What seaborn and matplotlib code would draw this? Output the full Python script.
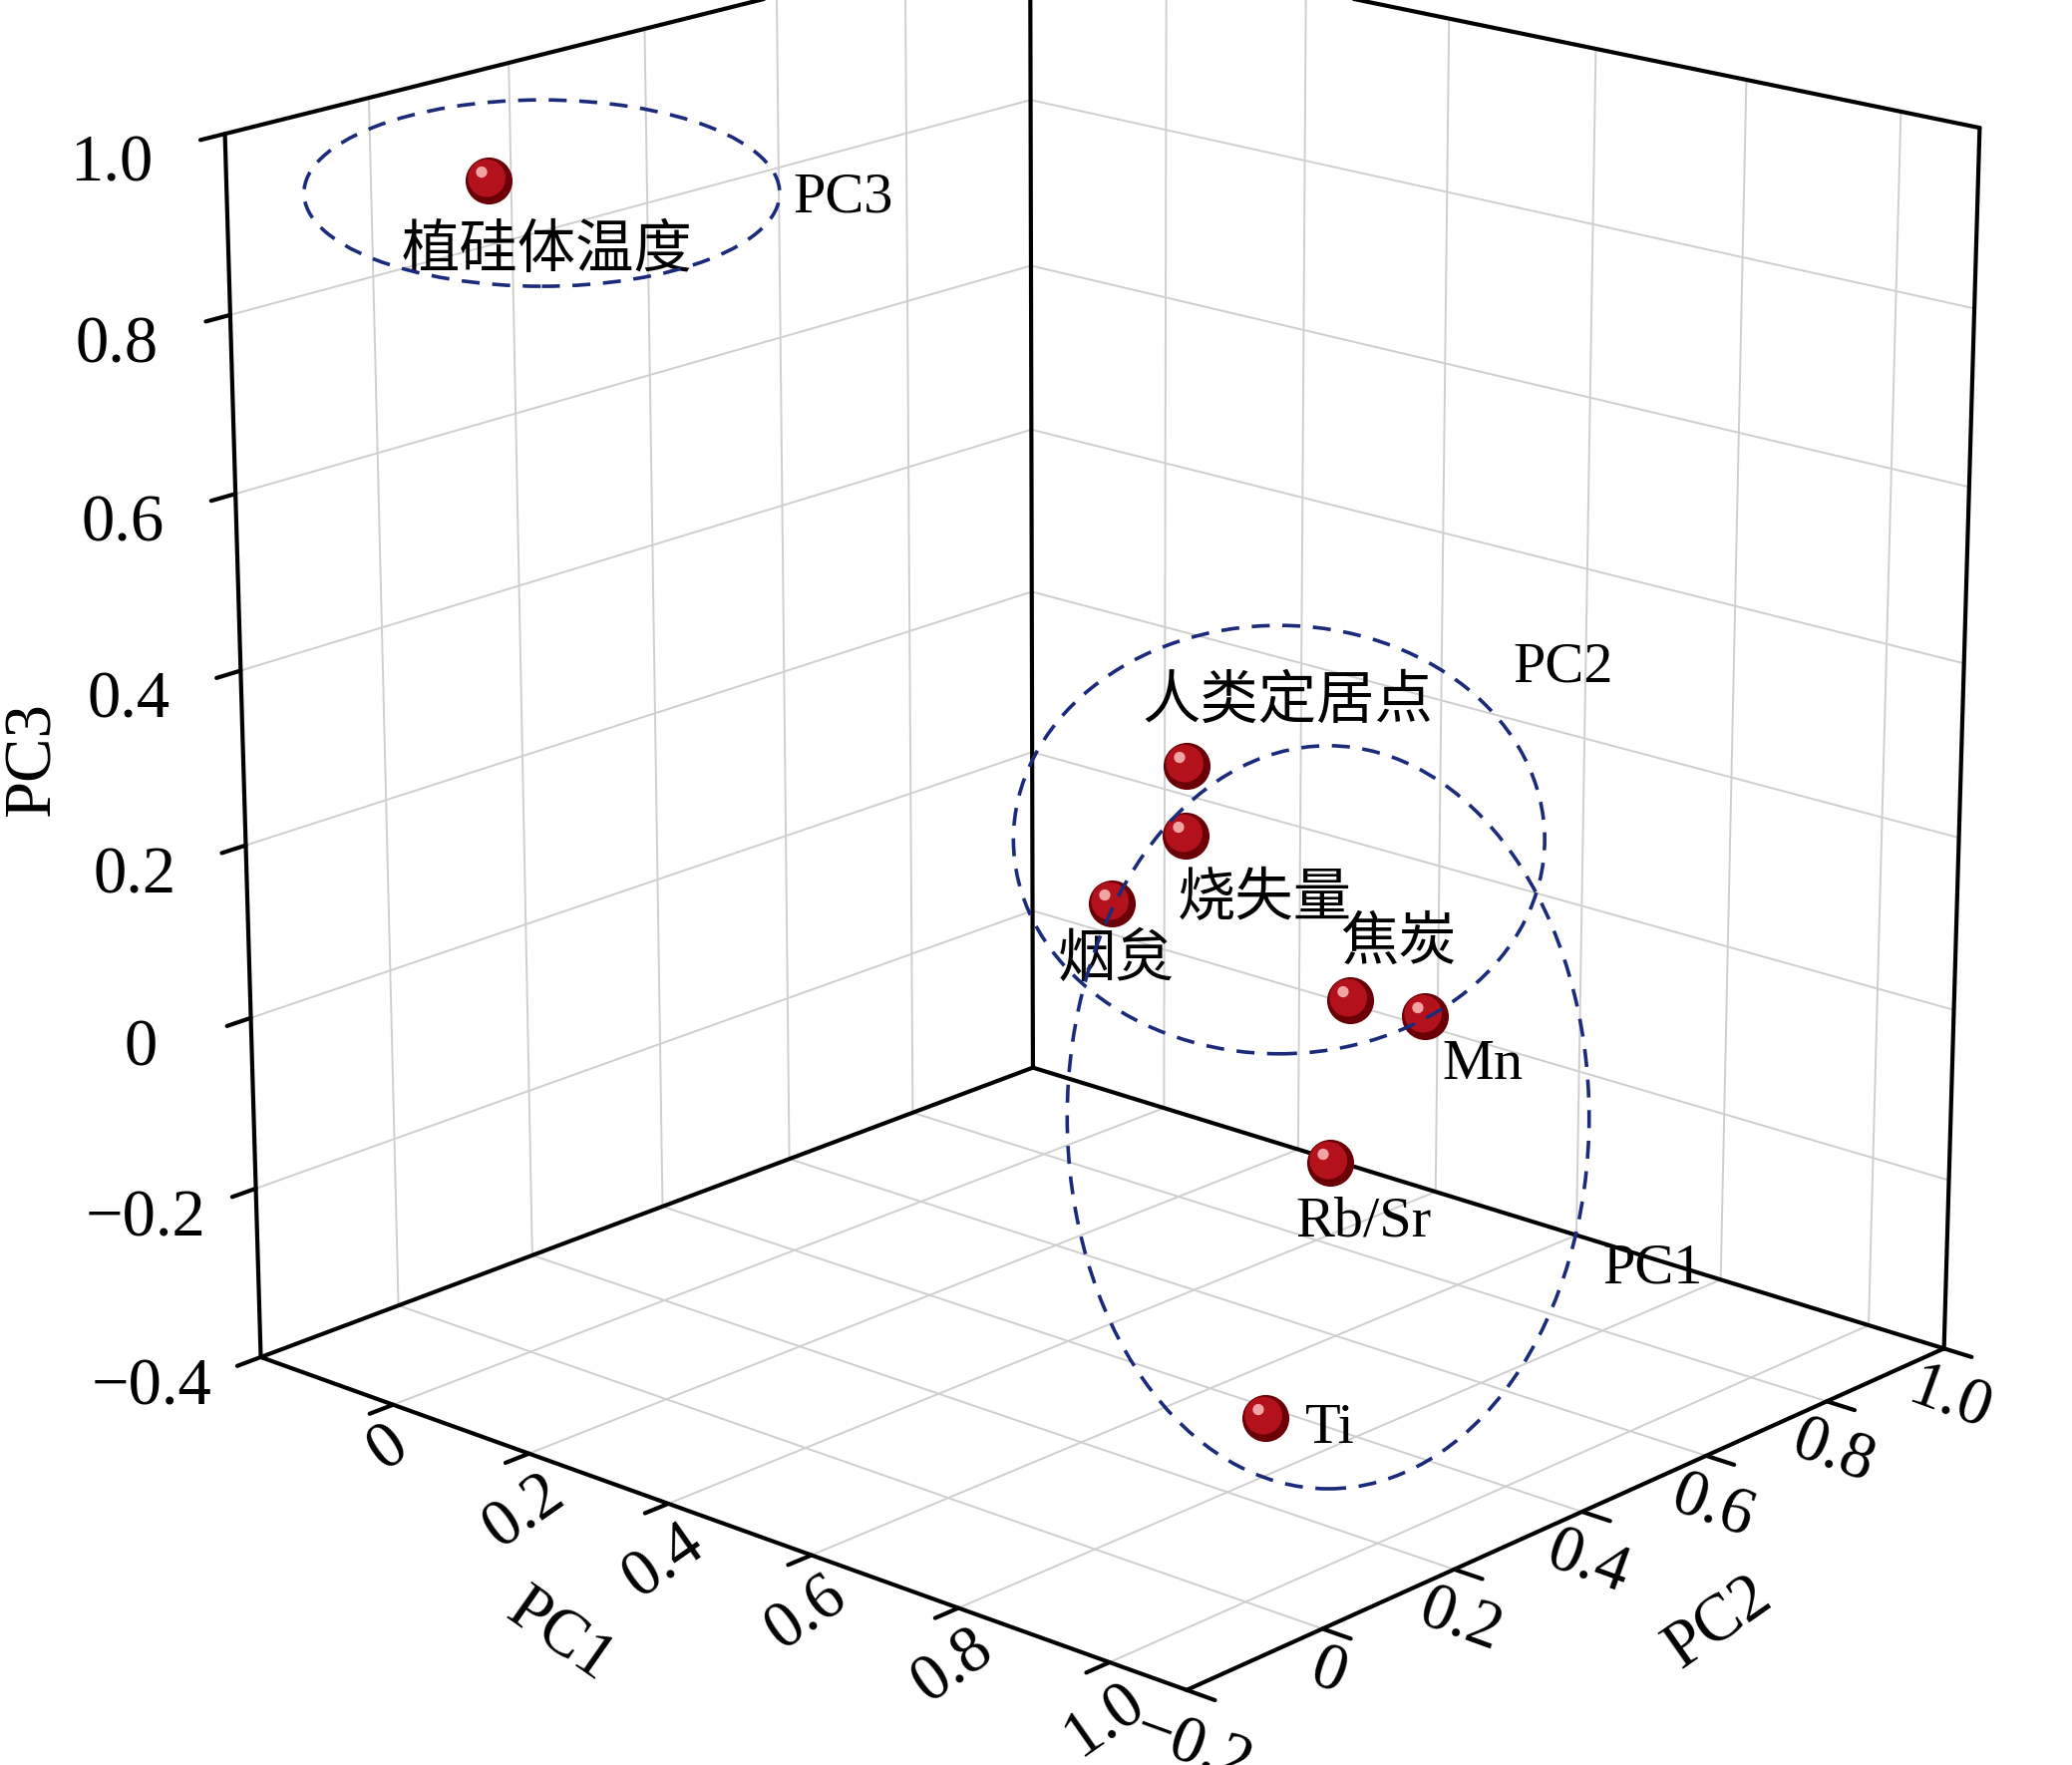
import matplotlib
matplotlib.use("Agg")
import matplotlib.pyplot as plt
import seaborn as sns
from matplotlib.patches import Ellipse
from matplotlib.path import Path
from matplotlib.markers import MarkerStyle
from matplotlib.transforms import offset_copy

# loadings
variables = ["植硅体温度", "人类定居点", "烧失量", "烟炱", "焦炭", "Mn", "Rb/Sr", "Ti"]
pc1 = [-0.13, 0.25, 0.20, 0.20, 0.50, 0.60, 0.65, 0.92]
pc2 = [0.10, 0.755, 0.81, 0.69, 0.735, 0.74, 0.53, 0.12]
pc3 = [0.90, 0.15, 0.04, -0.01, -0.065, -0.06, -0.16, -0.255]

pc1_ticks = [0, 0.2, 0.4, 0.6, 0.8, 1.0]
pc2_ticks = [-0.2, 0, 0.2, 0.4, 0.6, 0.8, 1.0]
pc3_ticks = [-0.4, -0.2, 0, 0.2, 0.4, 0.6, 0.8, 1.0]
pc1_lim = (-0.2, 1.1)
pc2_lim = (-0.2, 1.0)
pc3_lim = (-0.4, 1.0)

# label offsets from each point, in points
label_dx = [42, 73, 57, 3, 35, 42, 24, 47]
label_dy = [-52, 45, -47, -42, 41, -35, -43, -8]

sns.set_theme(style="white")
plt.rcParams["font.family"] = ["Liberation Serif", "Noto Sans CJK SC"]
plt.rcParams["axes.unicode_minus"] = True
plt.rcParams["text.color"] = "black"
plt.rcParams["axes.labelcolor"] = "black"
plt.rcParams["grid.color"] = "#cfcfcf"
plt.rcParams["grid.linewidth"] = 1.4
plt.rcParams["grid.linestyle"] = "-"
plt.rcParams["axes.linewidth"] = 3.0
plt.rcParams["axes.edgecolor"] = "black"
plt.rcParams["xtick.major.width"] = 3.0
plt.rcParams["ytick.major.width"] = 3.0


def fmt(v):
    return "0" if v == 0 else f"{v:.1f}".replace("-", "\u2212")


fig = plt.figure(figsize=(20.78, 17.70), dpi=100)
ax = fig.add_axes([0.021, 0.059, 1.0, 1.0], projection="3d")
ax.computed_zorder = False
ax.view_init(elev=18, azim=-48)
ax.set_proj_type("persp", focal_length=1.0)
ax.set_box_aspect((1.08, 1.0, 1.1), zoom=1.18)

ax.set_xlim(*pc1_lim)
ax.set_ylim(*pc2_lim)
ax.set_zlim(*pc3_lim)
ax.set_xticks(pc1_ticks)
ax.set_xticklabels([fmt(v) for v in pc1_ticks], rotation=35)
ax.set_yticks(pc2_ticks)
ax.set_yticklabels([fmt(v) for v in pc2_ticks], rotation=-20)
ax.set_zticks(pc3_ticks)
ax.set_zticklabels([fmt(v) for v in pc3_ticks])
ax.tick_params(labelsize=48, colors="black")
ax.tick_params(axis="x", pad=-4)
ax.tick_params(axis="y", pad=-4)
ax.tick_params(axis="z", pad=35)
ax.zaxis.set_ticks_position("lower")
ax.zaxis.set_label_position("lower")

for axis in (ax.xaxis, ax.yaxis, ax.zaxis):
    axis.set_pane_color((1, 1, 1, 1))
    axis._axinfo["tick"]["inward_factor"] = 0.35
    axis._axinfo["tick"]["outward_factor"] = 0.0
    axis.set_rotate_label(False)

ax.set_zlabel("PC3", fontsize=48, rotation=90, labelpad=60)
fig.text(423 / 1568, 1 - 1238 / 1335, "PC1", fontsize=48, rotation=-35,
         ha="center", va="center")
fig.text(1300 / 1568, 1 - 1228 / 1335, "PC2", fontsize=48, rotation=35,
         ha="center", va="center")

# dark outline of the back walls
x0, x1 = pc1_lim
y0, y1 = pc2_lim
z0, z1 = pc3_lim
edges = [
    ([x0, x0], [y0, y1], [z1, z1]),
    ([x0, x0], [y1, y1], [z0, z1]),
    ([x0, x0], [y0, y1], [z0, z0]),
    ([x0, x1], [y1, y1], [z1, z1]),
    ([x1, x1], [y1, y1], [z0, z1]),
    ([x0, x1], [y1, y1], [z0, z0]),
]
for ex, ey, ez in edges:
    ax.plot(ex, ey, ez, color="black", linewidth=3, zorder=1, clip_on=False)

# glossy sphere markers built from three layers
bound = Path([[0.5, 0.5], [-0.5, -0.5]], [Path.MOVETO, Path.MOVETO])
layers = [
    ((0.0, 0.0), 0.5, "#6a0006"),
    ((-0.05, 0.06), 0.40, "#b3121c"),
    ((-0.16, 0.19), 0.12, "#f2a3a3"),
]
for center, radius, color in layers:
    mk = MarkerStyle(Path.make_compound_path(bound, Path.circle(center, radius)))
    ax.scatter(pc1, pc2, pc3, s=1150, marker=mk, c=color, linewidths=0,
               depthshade=False, zorder=5)

for name, x, y, z, dx, dy in zip(variables, pc1, pc2, pc3, label_dx, label_dy):
    tr = offset_copy(ax.transData, fig=fig, x=dx, y=dy, units="points")
    ax.text(x, y, z, name, transform=tr, fontsize=42, ha="center", va="center",
            color="black", zorder=6)

# dashed groupings drawn over the plot
rings = [
    ((0.2615, 0.8906), 0.2296, 0.1056, "PC3", (0.3827, 0.8876)),
    ((0.6173, 0.5243), 0.2564, 0.2427, "PC2", (0.7300, 0.6217)),
    ((0.6410, 0.3670), 0.2519, 0.4210, "PC1", (0.7736, 0.2809)),
]
for center, w, h, tag, tpos in rings:
    fig.add_artist(Ellipse(center, w, h, transform=fig.transFigure, fill=False,
                           edgecolor="#1b2a7a", linewidth=2.6,
                           linestyle=(0, (5, 3.5))))
    fig.text(tpos[0], tpos[1], tag, fontsize=42, ha="left", va="center")

fig.savefig("out.png", dpi=100)
